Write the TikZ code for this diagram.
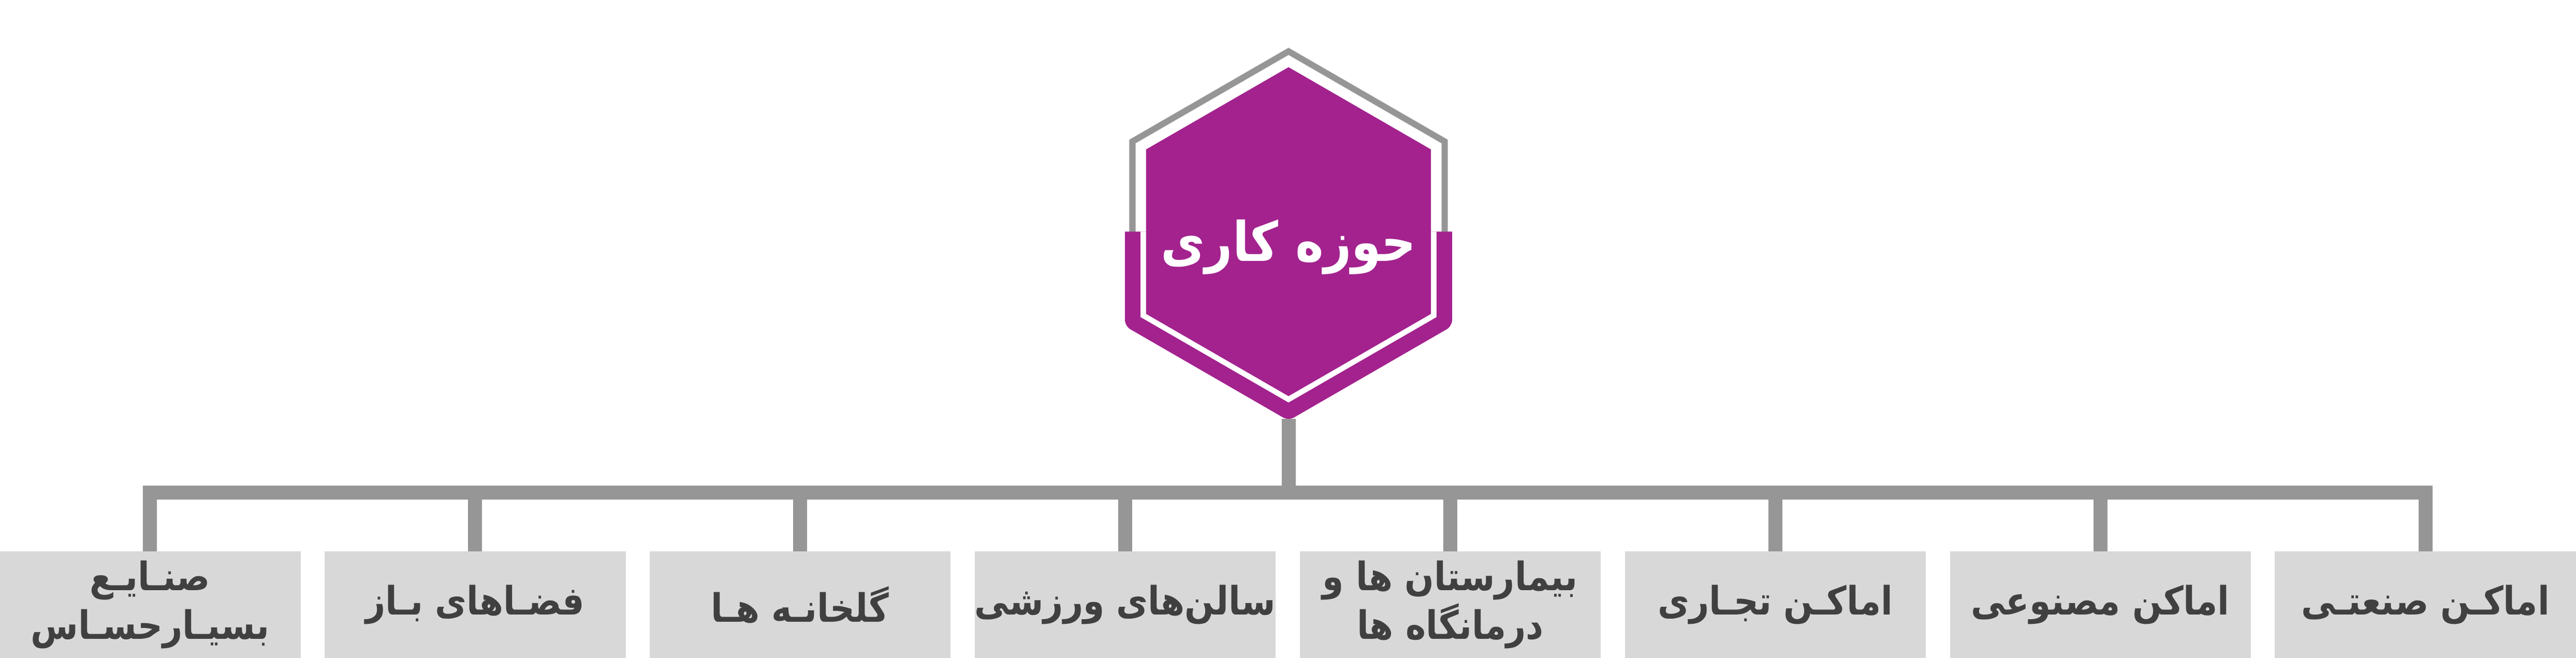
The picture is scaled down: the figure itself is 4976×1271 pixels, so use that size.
\documentclass[tikz,border=0pt]{standalone}
\usepackage{fontspec}
\usetikzlibrary{shapes.geometric, calc, positioning}
\TeXXeTstate=1
\newfontfamily\farsifont[Script=Arabic, FakeStretch=0.88]{DejaVu Sans}
\newcommand{\rtltext}[1]{\beginR#1\endR}
\definecolor{hexpurple}{HTML}{A3228E}
\definecolor{linegray}{HTML}{969696}
\definecolor{boxgray}{HTML}{D8D8D8}
\definecolor{labelgray}{HTML}{404040}
\tikzstyle{hexagon} = [regular polygon, regular polygon sides=6, shape border rotate=30, inner sep=0pt, outer sep=0pt]
\tikzstyle{sector} = [rectangle, fill=boxgray, minimum width=5.81cm, minimum height=2.06cm, inner sep=0pt, outer sep=0pt, align=center, text=labelgray, font=\farsifont\bfseries\fontsize{21.5pt}{27pt}\selectfont]
\tikzstyle{title} = [text=white, font=\farsifont\bfseries\fontsize{30pt}{36pt}\selectfont]
\tikzstyle{link} = [draw=linegray, line width=2.7mm]

\begin{document}
\begin{tikzpicture}[x=0.01cm, y=-0.01cm, node distance=4.65mm]
		\useasboundingbox (0,0) rectangle (4976,1271);
		% emblem
		\node (Frame) [hexagon, fill=linegray, minimum size=7.1cm] at (2489,447.5) {};
		\node (Ring) [hexagon, fill=white, minimum size=6.82cm] at (Frame) {};
		\fill[hexpurple] ($(Frame)+(-316,0)$) [rounded corners=1.2mm] -- ($(Frame)+(-316,182.5)$) -- ($(Frame)+(0,365)$) -- ($(Frame)+(316,182.5)$) [sharp corners] -- ($(Frame)+(316,0)$) -- cycle;
		\fill[white] ($(Frame)+(-285.8,0)$) -- ($(Frame)+(-285.8,165)$) -- ($(Frame)+(0,330)$) -- ($(Frame)+(285.8,165)$) -- ($(Frame)+(285.8,0)$) -- cycle;
		\node (WorkField) [hexagon, fill=hexpurple, minimum size=6.35cm] at (Frame) {};
		\node (WorkFieldTitle) [title] at ($(WorkField)+(0,30)$) {\rtltext{حوزه کاری}};
		\coordinate (WorkFieldTip) at ($(Frame)+(0,362)$);
		\coordinate (Bus) at (2489,951.5);
		% sectors
		\node (Industrial) [sector] at (4685,1168) {\rtltext{اماکـن صنعتـی}};
		\node (Artificial) [sector, left = of Industrial] {\rtltext{اماکن مصنوعی}};
		\node (Commercial) [sector, left = of Artificial] {\rtltext{اماکـن تجـاری}};
		\node (Hospitals) [sector, left = of Commercial] {\rtltext{بیمارستان ها و}\\\rtltext{درمانگاه ها}};
		\node (SportHalls) [sector, left = of Hospitals] {\rtltext{سالن‌های ورزشی}};
		\node (Greenhouses) [sector, left = of SportHalls] {\rtltext{گلخانـه هـا}};
		\node (OpenSpaces) [sector, left = of Greenhouses] {\rtltext{فضـاهای بـاز}};
		\node (SensitiveIndustries) [sector, left = of OpenSpaces] {\rtltext{صنـایـع}\\\rtltext{بسیـارحسـاس}};
		% connectors
		\draw [link] (WorkFieldTip) -- (Bus);
		\draw [link] (SensitiveIndustries.north) |- (Bus) -| (Industrial.north);
		\draw [link] (OpenSpaces.north) -- (OpenSpaces.north |- Bus);
		\draw [link] (Greenhouses.north) -- (Greenhouses.north |- Bus);
		\draw [link] (SportHalls.north) -- (SportHalls.north |- Bus);
		\draw [link] (Hospitals.north) -- (Hospitals.north |- Bus);
		\draw [link] (Commercial.north) -- (Commercial.north |- Bus);
		\draw [link] (Artificial.north) -- (Artificial.north |- Bus);
\end{tikzpicture}
\end{document}
